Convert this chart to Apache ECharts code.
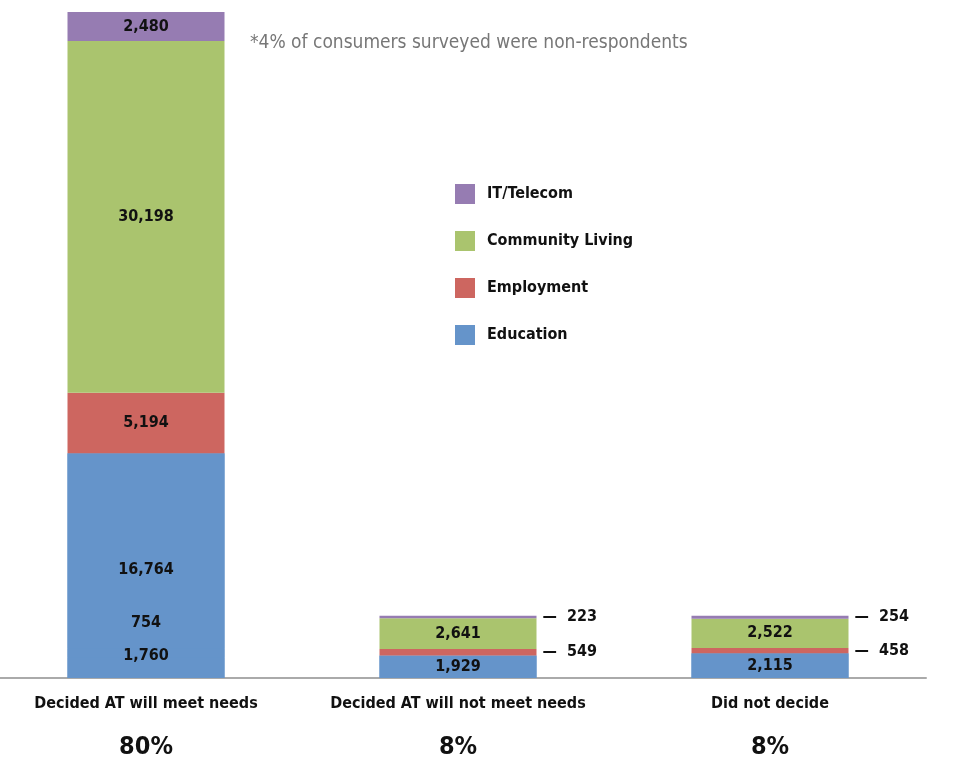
<!DOCTYPE html>
<html>
<head>
<meta charset="utf-8">
<script src="https://cdn.jsdelivr.net/npm/echarts@6/dist/echarts.min.js"></script>
<style>
  html, body { margin: 0; padding: 0; background: #fff; }
  #chart { width: 958px; height: 761px; }
</style>
</head>
<body>
<div id="chart"></div>
<script>
const FONT = "'Liberation Sans Narrow', 'DejaVu Sans Condensed', 'Roboto', sans-serif";

const categories = ['Decided AT will meet needs', 'Decided AT will not meet needs', 'Did not decide'];
const shares = ['80%', '8%', '8%'];

// blue part of the first bar carries two extra labelled pieces
const educationLow = [1760, 0, 0];
const educationMid = [754, 0, 0];
const education = [16764, 1929, 2115];
const employment = [5194, 549, 458];
const communityLiving = [30198, 2641, 2522];
const itTelecom = [2480, 223, 254];

const note = '*4% of consumers surveyed were non-respondents';

const BLUE = '#6594CA', RED = '#CD6660', GREEN = '#AAC46E', PURPLE = '#967CB2';
const LABEL_SIZE = 16;

const fmt = v => v.toLocaleString('en-US');

const inside = (dy) => ({
  show: true, position: 'inside', offset: [0, dy || 0],
  color: '#111', fontFamily: FONT, fontWeight: 'bold', fontSize: LABEL_SIZE,
  formatter: p => p.value ? fmt(p.value) : ''
});

const side = {
  show: true, position: 'right', distance: 6,
  color: '#111', fontFamily: FONT, fontWeight: 'bold', fontSize: LABEL_SIZE,
  formatter: p => '\u2014  ' + fmt(p.value)
};

// per-point label tweaks: first bar's blue labels are nudged, thin pieces go to the right
const barSeries = (name, data, color, perPoint) => ({
  name, type: 'bar', stack: 'all', barWidth: 157, barGap: '-100%', z: 3,
  itemStyle: { color },
  label: inside(),
  data: data.map((v, i) => perPoint && perPoint[i] ? { value: v, label: perPoint[i] } : v)
});

const blueTotal = categories.map((_, i) => educationLow[i] + educationMid[i] + education[i]);
const totals = categories.map((_, i) =>
  blueTotal[i] + employment[i] + communityLiving[i] + itTelecom[i]);

const chart = echarts.init(document.getElementById('chart'));
chart.setOption({
  backgroundColor: '#fff',
  animation: false,
  grid: { left: -10, right: 32, top: 12, bottom: 83, containLabel: false, outerBoundsMode: 'none' },
  legend: {
    orient: 'vertical', left: 455, top: 184, padding: 0,
    itemWidth: 20, itemHeight: 20, itemGap: 27,
    icon: 'rect',
    data: ['IT/Telecom', 'Community Living', 'Employment', 'Education'],
    textStyle: { fontFamily: FONT, fontWeight: 'bold', fontSize: 16, color: '#111', padding: [0, 0, 0, 7] }
  },
  xAxis: {
    type: 'category', data: categories,
    axisLine: { lineStyle: { color: '#aaa', width: 2 } },
    axisTick: { show: false },
    axisLabel: {
      margin: 15, interval: 0,
      formatter: (v, i) => '{a|' + v + '}\n{b|' + shares[i] + '}',
      rich: {
        a: { fontFamily: FONT, fontWeight: 'bold', fontSize: 16, color: '#111', lineHeight: 22 },
        b: { fontFamily: FONT, fontWeight: 'bold', fontSize: 25, color: '#111', lineHeight: 64 }
      }
    }
  },
  yAxis: {
    type: 'value', min: 0, max: Math.max(...totals),
    show: false, splitLine: { show: false }
  },
  graphic: [{
    type: 'text', left: 250, top: 34,
    style: { text: note, fontFamily: FONT, fontSize: 19, fill: '#777' }
  }],
  series: [
    // plain blue underlay so the stacked blue pieces show no seams
    { name: 'blueBase', type: 'bar', barWidth: 157, barGap: '-100%', z: 1, silent: true,
      itemStyle: { color: BLUE }, data: blueTotal },
    barSeries('Education', educationLow, BLUE, [inside(-12)]),
    barSeries('Education', educationMid, BLUE, [inside(-30)]),
    barSeries('Education', education, BLUE, [inside(19)]),
    barSeries('Employment', employment, RED, [null, side, side]),
    barSeries('Community Living', communityLiving, GREEN),
    barSeries('IT/Telecom', itTelecom, PURPLE, [null, side, side])
  ]
});
</script>
</body>
</html>
